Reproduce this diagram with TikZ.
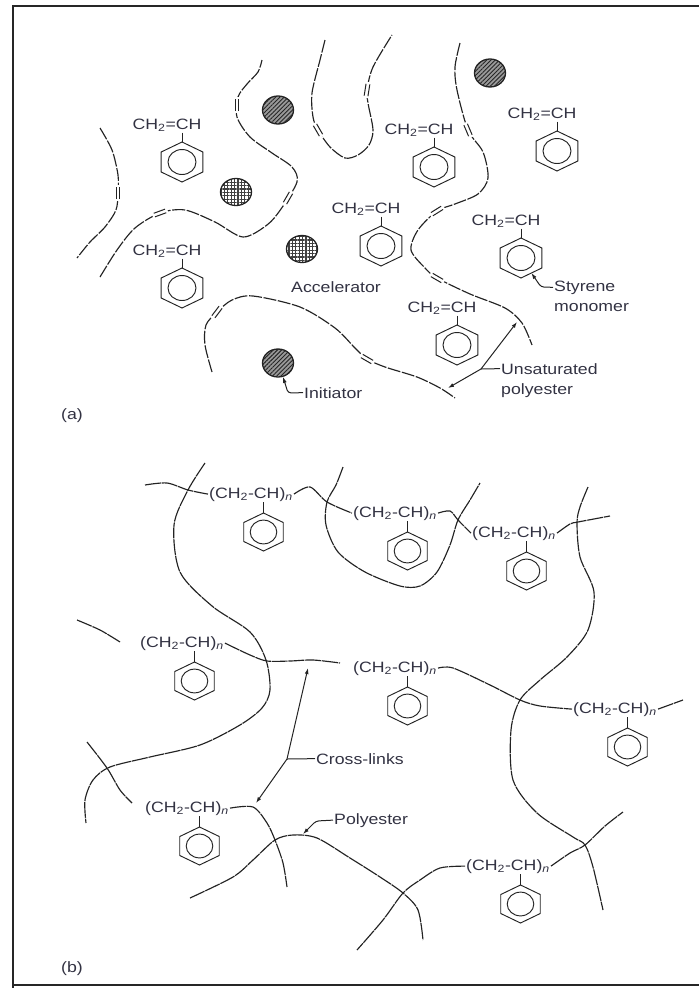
\documentclass[tikz,border=0pt]{standalone}
\usepackage{fontspec}
\setmainfont[FakeStretch=1.18]{Liberation Sans}
\usepackage{tikz}
\usetikzlibrary{arrows.meta,shapes.geometric,patterns.meta}

\definecolor{ink}{RGB}{50,50,66}
\definecolor{wire}{RGB}{35,35,35}

\newcommand{\vinyl}{CH\textsubscript{2}=CH}
\newcommand{\polyunit}{(CH\textsubscript{2}-CH)\textsubscript{\itshape n}}

\begin{document}
\begin{tikzpicture}[x=1pt,y=-1pt,
	strand/.style={wire,line width=1.15pt,dash pattern=on 13pt off 1.6pt},
	chain/.style={wire,line width=1.15pt,dash pattern=on 16pt off 0.8pt},
	ringline/.style={wire,line width=0.95pt},
	txt/.style={ink,font=\fontsize{15}{18}\selectfont,inner sep=1pt,anchor=base},
	lead/.style={wire,line width=1pt},
	leadtip/.style={-{Latex[length=6pt,width=4pt]}},
	frame/.style={black!85,line width=2pt},
	initiator/.style={ellipse,draw=wire,line width=1.3pt,minimum width=31pt,minimum height=28pt,inner sep=0pt,
		preaction={fill=black!40},
		preaction={pattern color=black!85,pattern={Lines[angle=45,distance=3pt,line width=0.9pt]}}},
	accelerator/.style={ellipse,draw=wire,line width=1.3pt,minimum width=31pt,minimum height=27pt,inner sep=0pt,
		preaction={fill=white},
		preaction={pattern color=black!75,pattern={Hatch[angle=0,distance=3.4pt,line width=1.1pt]}}},
	ring/.pic={
		\draw[ringline] (0,-20) -- (20.8,-10) -- (20.8,10) -- (0,20) -- (-20.8,10) -- (-20.8,-10) -- cycle;
		\draw[ringline] (0,0) ellipse [x radius=14pt,y radius=12.5pt];
		\coordinate (-top) at (0,-20);
		\coordinate (-se) at (10.4,15);
	},
	dbl/.pic={
		\fill[white] (-8,-2.6) rectangle (8,2.6);
		\draw[wire,line width=1pt] (-6,-1.9) -- (6,-1.9) (-6,1.9) -- (6,1.9);
	}]

	\useasboundingbox (0,0) rectangle (699,988);

	% frame
	\draw[frame] (13,988) -- (13,6) -- (699,6);
	\draw[frame] (13,985) -- (699,985);

	%%% (a) resin before curing

	% unsaturated polyester chains
	\draw[strand] plot[smooth] coordinates {(100,128) (112,150) (118,175) (118,193) (116,210) (105,227) (90,242) (77,258)};
	\draw[strand] plot[smooth] coordinates {(100,277) (117,250) (135,228) (160,213) (185,210) (215,222) (243,237) (267,225) (281,209) (297,182) (292,167) (272,153) (250,137) (237,117) (238,97) (247,84) (258,72) (262,60)};
	\draw[strand] plot[smooth] coordinates {(325,40) (320,60) (312,93) (313,117) (318,130) (330,147) (345,158) (358,155) (369,145) (373,130) (368,103) (367,90) (373,67) (392,35)};
	\draw[strand] plot[smooth] coordinates {(460,43) (455,67) (457,90) (468,130) (483,152) (488,178) (478,194) (455,204) (437,211) (418,230) (411,250) (425,268) (437,278) (470,294) (505,308) (522,323) (532,345)};
	\draw[strand] plot[smooth] coordinates {(212,372) (205,345) (206,325) (217,312) (232,300) (253,296) (300,307) (335,328) (355,348) (367,359) (385,367) (417,377) (440,388) (455,398)};

	% C=C double bonds
	\foreach \x/\y/\a in {118/193/90, 160/213/20, 288/198/60, 237/105/90, 318/130/-60, 367/90/81,
		468/130/-67, 437/211/32, 437/278/-30, 217/312/53, 367/359/-30}
		\pic[rotate=\a] at (\x,\y) {dbl};

	% styrene monomers
	\foreach \i/\x/\y in {1/167/129, 2/419/134, 3/366/213, 4/506/225, 5/542/118, 6/167/255, 7/442/312}{
		\node[txt] (m\i) at (\x,\y) {\vinyl};
		\pic (r\i) at (\x+15,\y+33) {ring};
		\draw[ringline] (m\i.south -| r\i-top) -- (r\i-top);
	}

	% initiator and accelerator
	\node[initiator] (i1) at (278,110) {};
	\node[initiator] (i2) at (490,73) {};
	\node[initiator] (i3) at (278,363) {};
	\node[accelerator] (c1) at (236,192) {};
	\node[accelerator] (c2) at (302,249) {};

	% labels
	\node[txt] (acc) at (336,292) {Accelerator};
	\node[txt,anchor=base west] (ini) at (303,398) {Initiator};
	\node[txt,anchor=base west] (sty) at (553,291) {Styrene};
	\node[txt,anchor=base west] (mon) at (553,311) {monomer};
	\node[txt,anchor=base west] (uns) at (500,374) {Unsaturated};
	\node[txt,anchor=base west] (pes) at (500,394) {polyester};
	\node[txt] (la) at (72,419) {(a)};

	\draw[lead,leadtip,rounded corners=3pt] (ini.west) -- (288,393) -- (i3.-70);
	\draw[lead,leadtip,rounded corners=3pt] (sty.west) -- (541,287) -- (r4-se);

	\coordinate (uj) at (481,369);
	\coordinate (ua) at (517,322);
	\coordinate (ub) at (448,388);
	\draw[lead] (uns.west) -- (uj);
	\draw[lead,leadtip] (uj) -- (ua);
	\draw[lead,leadtip] (uj) -- (ub);

	%%% (b) cured network

	\foreach \i/\x/\y in {1/251/498, 2/395/517, 3/514/537, 4/182/647, 5/395/672, 6/615/713, 7/187/812, 8/508/870}{
		\node[txt] (p\i) at (\x,\y) {\polyunit};
		\pic[scale=0.95] (q\i) at (\x+12.5,\y+34) {ring};
		\draw[ringline] (p\i.south -| q\i-top) -- (q\i-top);
	}

	% polyester chains
	\draw[chain] plot[smooth] coordinates {(205,463) (188,490) (174,525) (180,572) (212,606) (250,632) (266,660) (270,690) (262,708) (240,725) (200,745) (150,757) (110,767) (93,780) (85,800) (86,823)};
	\draw[chain] plot[smooth] coordinates {(343,467) (336,485) (327,502) (326,525) (338,552) (365,572) (400,586) (420,586) (437,572) (450,545) (458,520) (470,500) (480,483)};
	\draw[chain] plot[smooth] coordinates {(588,487) (580,507) (577,523) (580,557) (594,592) (588,630) (567,657) (540,680) (520,700) (511,730) (513,780) (537,813) (573,837) (585,845) (593,867) (603,910)};
	\draw[chain] plot[smooth] coordinates {(190,898) (233,877) (253,860) (275,840) (293,835) (317,838) (350,858) (380,877) (403,893) (418,910) (423,940)};

	% polystyrene cross-links
	\draw[chain] plot[smooth] coordinates {(145,485) (167,483) (188,490) (p1.west)};
	\draw[chain] plot[smooth] coordinates {(p1.east) (310,487) (327,502) (p2.west)};
	\draw[chain] plot[smooth] coordinates {(p2.east) (450,511) (458,520) (p3.west)};
	\draw[chain] plot[smooth] coordinates {(p3.east) (570,524) (578,522) (610,516)};
	\draw[chain] plot[smooth] coordinates {(77,620) (100,630) (120,642)};
	\draw[chain] plot[smooth] coordinates {(p4.east) (250,655) (267,661) (290,661) (313,660) (340,663)};
	\draw[chain] plot[smooth] coordinates {(p5.east) (453,668) (490,685) (520,700) (540,706) (p6.west)};
	\draw[chain] (p6.east) -- (683,700);
	\draw[chain] plot[smooth] coordinates {(87,742) (107,768) (120,790) (132,803)};
	\draw[chain] plot[smooth] coordinates {(p7.east) (253,807) (267,823) (275,840) (283,863) (287,887)};
	\draw[chain] plot[smooth] coordinates {(p8.west) (440,868) (420,880) (403,893) (383,920) (357,950)};
	\draw[chain] plot[smooth] coordinates {(p8.east) (570,853) (585,845) (605,826) (623,812)};

	% labels
	\node[txt,anchor=base west] (xl) at (315,764) {Cross-links};
	\node[txt,anchor=base west] (pl) at (333,824) {Polyester};
	\node[txt] (lb) at (72,972) {(b)};

	\coordinate (xj) at (287,759);
	\coordinate (xa) at (308,668);
	\coordinate (xb) at (256,803);
	\draw[lead] (xl.west) -- (xj);
	\draw[lead,leadtip] (xj) -- (xa);
	\draw[lead,leadtip] (xj) -- (xb);

	\coordinate (pa) at (303,834);
	\draw[lead,leadtip,rounded corners=3pt] (pl.west) -- (316,821) -- (pa);

\end{tikzpicture}
\end{document}
